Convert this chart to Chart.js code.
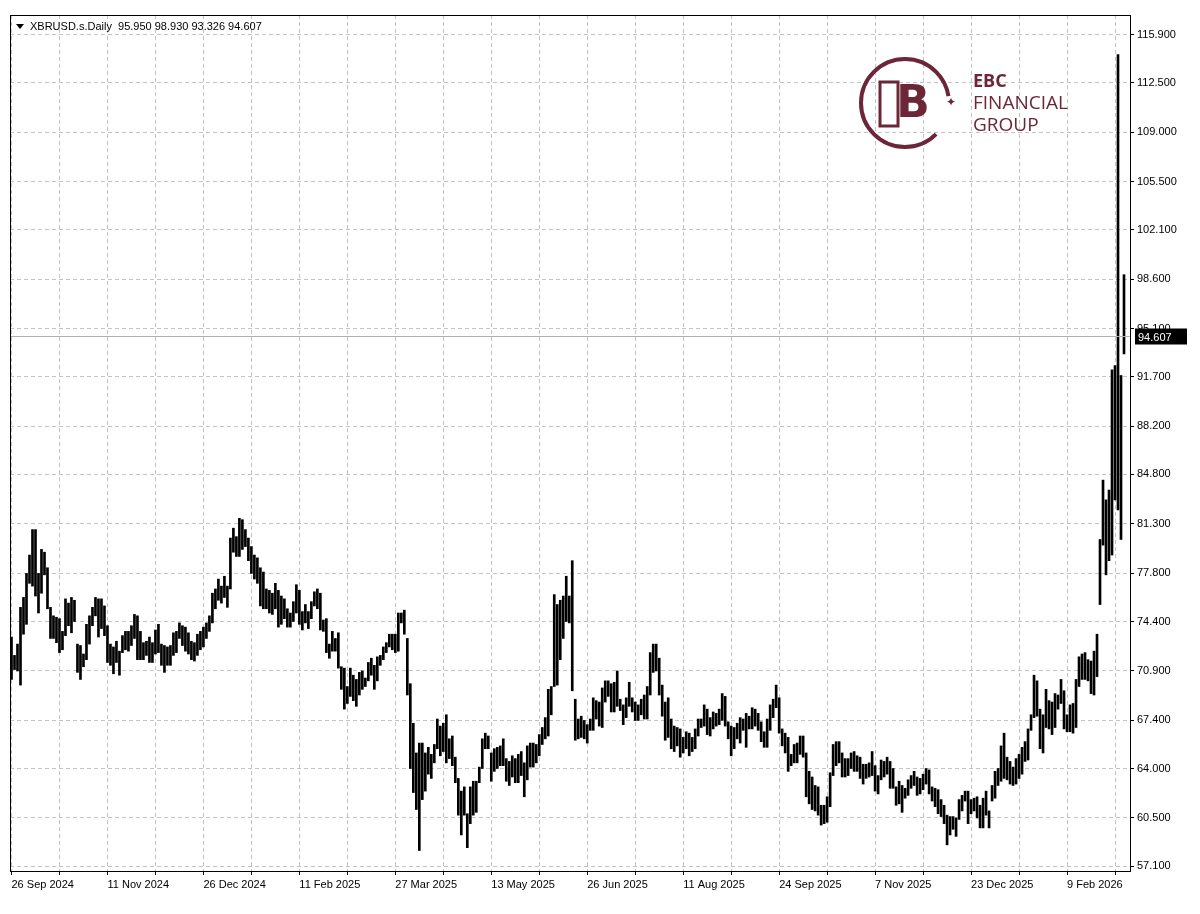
<!DOCTYPE html>
<html>
<head>
<meta charset="utf-8">
<script src="https://cdn.jsdelivr.net/npm/chart.js@4.4.1/dist/chart.umd.min.js"></script>
<style>
  html, body { margin: 0; padding: 0; background: #fff; }
  #wrap { width: 1200px; height: 914px; }
</style>
</head>
<body>
<div id="wrap"><canvas id="myChart" width="1200" height="914"></canvas></div>
<script>
// daily highs / lows, Sep 2024 -> Mar 2026
let highs = [
  73.3,72.0,72.8,75.4,76.1,77.8,79.1,80.9,80.9,77.8, 79.5,79.3,78.2,75.4,74.8,74.7,74.6,73.7,76.0,75.7,
  76.1,75.9,72.8,72.7,72.1,74.2,74.8,75.4,76.1,76.0, 76.0,75.5,74.1,72.8,72.6,73.0,72.3,73.4,73.7,73.7,
  74.1,74.9,74.8,73.7,72.9,73.0,73.3,72.9,73.8,74.2, 72.8,72.7,72.6,72.7,73.6,73.7,74.3,74.1,74.0,73.6,
  73.0,72.9,73.5,73.7,74.0,74.3,74.8,76.4,76.7,77.4, 76.9,77.6,76.9,80.3,81.0,80.4,81.7,81.6,80.9,80.3,
  79.7,79.1,78.9,78.2,77.9,76.7,76.6,76.4,77.1,76.6, 76.2,76.0,75.3,
  75.0,75.8,77.0,76.6,75.1,75.6,75.1,75.8,76.5,76.7, 76.4,74.5,74.6,72.8,73.7,73.2,73.6,71.2,71.1,69.8,
  71.1,70.6,70.3,70.8,70.9,70.4,71.5,71.8,71.3,71.9, 72.0,72.6,72.9,73.5,73.5,73.5,75.0,75.0,75.2,73.2,
  70.0,67.2,65.1,65.8,65.8,65.1,65.5,65.0,65.7,67.5, 67.0,67.2,67.8,66.1,66.3,64.8,63.3,62.4,62.7,60.8,
  62.7,63.1,63.1,64.1,66.1,66.5,66.3,65.1,65.4,65.5, 65.6,66.1,64.7,64.5,64.9,64.7,65.0,65.2,64.4,65.6,
  65.8,65.8,65.7,66.4,66.9,67.6,69.6,69.8,76.3,75.6, 75.9,76.2,77.6,76.2,78.7,68.9,67.5,
  67.7,67.4,67.1,67.5,69.0,68.8,68.7,69.7,70.2,70.2, 70.0,70.1,70.9,68.9,68.5,69.0,70.1,69.0,68.7,68.5,
  68.9,69.2,69.8,72.2,72.8,72.8,71.8,69.9,68.7,69.0, 67.5,67.0,66.9,66.8,66.2,66.6,66.5,66.2,66.8,67.5,
  67.5,68.5,68.2,67.6,68.0,67.9,68.2,69.3,69.1,67.3, 67.0,66.9,67.2,67.6,67.5,67.9,67.7,68.3,68.2,67.9,
  67.3,66.6,67.5,68.5,68.9,69.9,69.0,66.8,66.5,66.2, 65.0,65.7,65.8,66.3,66.3,65.1,63.8,63.4,62.8,62.7,
  61.4,61.4,62.0,63.7,65.7,65.9,65.9,65.1,64.7,64.7, 65.1,65.2,64.9,64.8,64.3,64.3,
  64.4,65.2,64.2,63.5,64.6,64.5,64.8,64.5,64.0,62.7, 63.1,62.8,62.6,63.2,63.5,63.8,63.4,63.3,63.6,64.0,
  63.9,62.7,62.6,62.5,61.8,61.4,60.7,60.6,60.6,60.5, 61.8,62.1,62.4,62.4,61.8,61.9,62.0,61.4,61.9,62.4,
  61.0,62.8,63.8,64.0,65.6,66.5,64.8,64.5,64.1,64.7, 65.0,65.5,65.9,66.8,67.8,70.6,70.2,68.2,67.8,69.6,
  68.8,68.7,69.3,69.2,70.3,69.5,67.8,68.5,68.6,70.3, 71.9,72.1,72.2,71.7,71.6,72.3,73.5,
  80.2,84.4,83.0,83.7,92.2,92.5,114.5,91.8,98.93
];
let lows = [
  70.3,71.0,70.9,69.9,73.5,74.2,77.1,76.9,76.2,75.0, 76.4,77.7,75.3,73.2,73.2,72.9,72.2,72.4,73.4,74.1,
  73.6,74.4,70.8,70.3,71.2,71.7,72.8,74.1,74.8,73.3, 73.9,73.4,71.5,71.3,70.7,71.5,70.6,72.2,72.4,72.3,
  72.7,73.2,71.7,71.7,71.7,72.0,71.5,71.5,72.1,72.2, 71.3,70.8,71.3,71.3,72.0,72.2,73.2,72.7,72.3,72.1,
  71.7,71.6,72.0,72.4,72.6,73.2,73.7,74.3,75.3,75.9, 75.7,76.1,75.4,76.7,79.3,79.0,79.0,79.5,79.7,78.7,
  77.8,77.4,77.1,75.5,75.3,75.3,75.0,74.9,75.3,74.0, 74.2,74.6,74.0,
  74.0,74.4,75.0,74.2,73.8,74.3,73.9,74.6,75.5,75.3, 73.8,73.7,72.2,71.8,72.3,72.3,71.1,69.6,68.2,68.6,
  69.1,68.8,68.4,69.2,69.6,69.8,70.2,70.6,69.6,70.2, 71.3,71.7,72.2,72.6,72.4,72.2,72.3,74.3,73.5,69.2,
  64.0,62.3,61.1,58.2,61.8,62.4,63.6,63.3,64.4,65.4, 64.9,65.2,64.4,64.7,64.2,63.0,60.7,59.3,60.7,58.4,
  60.1,60.7,60.9,63.0,64.0,65.4,65.4,63.1,63.8,64.0, 64.2,64.2,63.1,62.8,63.4,63.0,63.0,63.5,62.0,63.2,
  64.1,64.1,64.4,64.9,65.7,66.1,66.3,67.8,69.8,69.9, 71.7,73.2,74.4,74.3,69.5,66.0,66.1,
  66.2,66.1,65.8,66.7,66.7,67.5,67.0,66.9,68.7,69.1, 68.0,68.0,68.4,68.1,67.1,67.6,68.4,68.0,67.4,67.4,
  67.8,67.5,67.5,69.2,70.8,70.9,69.2,67.7,66.0,66.2, 65.4,65.2,65.6,64.8,65.1,65.4,64.9,65.2,65.4,66.3,
  66.9,67.0,66.4,66.3,66.8,67.0,67.1,67.4,67.0,66.1, 64.9,65.4,66.1,65.8,66.7,65.5,66.8,66.8,67.0,66.7,
  65.9,65.5,65.5,66.7,67.6,68.3,66.5,65.6,65.1,63.8, 64.2,64.4,64.4,65.0,64.8,62.0,61.5,61.1,61.0,60.7,
  60.0,60.1,60.2,61.3,63.5,64.2,64.4,63.4,63.4,63.5, 64.0,63.8,63.8,63.3,62.9,63.3,
  63.4,63.5,62.4,62.2,63.2,63.4,63.6,62.6,62.6,61.4, 61.5,60.9,61.9,62.1,62.6,62.8,62.1,62.2,62.5,62.9,
  62.2,61.7,61.3,60.8,60.6,60.1,58.6,59.3,59.7,59.2, 60.4,61.0,61.7,60.1,60.8,61.0,60.5,59.8,59.8,60.7,
  59.8,61.7,61.9,62.8,63.1,63.3,63.2,62.9,62.8,62.9, 63.3,63.6,64.5,64.6,66.7,67.6,67.7,65.4,65.1,66.9,
  66.8,66.4,66.9,68.2,68.6,66.8,66.6,66.6,66.5,66.9, 69.8,70.3,70.3,70.2,69.3,69.2,70.5,
  75.6,79.8,77.7,78.7,79.1,83.0,82.3,80.2,93.326
];
let dateLabels = ['26 Sep 2024','11 Nov 2024','26 Dec 2024','11 Feb 2025','27 Mar 2025','13 May 2025',
  '26 Jun 2025','11 Aug 2025','24 Sep 2025','7 Nov 2025','23 Dec 2025','9 Feb 2026'];
let priceTicks = [57.1,60.5,64.0,67.4,70.9,74.4,77.8,81.3,84.8,88.2,91.7,95.1,98.6,102.1,105.5,109.0,112.5,115.9];
let lastOHLC = [95.950, 98.930, 93.326, 94.607];

let bars = highs.map((h, i) => ({ x: i, y: [lows[i], h] }));
let maroon = '#6b2737';

const decor = {
  id: 'decor',
  beforeDraw(chart) {
    const c = chart.ctx;
    c.save();
    c.fillStyle = '#fff';
    c.fillRect(0, 0, chart.width, chart.height);
    c.restore();
  },
  afterDatasetsDraw(chart) {
    const c = chart.ctx, a = chart.chartArea, ys = chart.scales.y;
    c.save();
    // current price line
    const py = Math.round(ys.getPixelForValue(lastOHLC[3])) + 0.5;
    c.strokeStyle = '#b0b0b0'; c.lineWidth = 1;
    c.beginPath(); c.moveTo(a.left, py); c.lineTo(a.right, py); c.stroke();
    // frame
    c.strokeStyle = '#000';
    c.strokeRect(a.left + 0.5, a.top + 0.5, a.right - a.left, a.bottom - a.top);
    // price label box
    c.fillStyle = '#000';
    c.fillRect(a.right + 5, py - 8, 52, 16);
    c.fillStyle = '#fff';
    c.font = '11px "Liberation Sans", sans-serif';
    c.textBaseline = 'middle';
    c.fillText(lastOHLC[3].toFixed(3), a.right + 8, py + 1);
    // header
    c.fillStyle = '#000';
    c.beginPath(); c.moveTo(a.left + 6, a.top + 9); c.lineTo(a.left + 14, a.top + 9); c.lineTo(a.left + 10, a.top + 14); c.fill();
    c.fillText('XBRUSD.s.Daily  ' + lastOHLC.map(v => v.toFixed(3)).join(' '), a.left + 20, a.top + 12);
    // logo
    c.strokeStyle = maroon; c.fillStyle = maroon; c.lineWidth = 4;
    c.beginPath(); c.arc(905, 103, 44, 0.25 * Math.PI, 1.95 * Math.PI); c.stroke();
    c.lineWidth = 3;
    c.font = 'bold 44px "DejaVu Sans", sans-serif';
    c.textAlign = 'center';
    c.fillText('B', 913, 106);
    c.strokeRect(880, 82, 18, 44);
    c.font = '12px sans-serif';
    c.fillText('\u2726', 951, 103);
    c.textAlign = 'left';
    c.font = 'bold 18px "Open Sans", sans-serif';
    c.fillText('EBC', 973, 82);
    c.font = '19px "Open Sans", sans-serif';
    c.fillText('FINANCIAL', 973, 104);
    c.fillText('GROUP', 973, 126);
    c.restore();
  }
};

new Chart(document.getElementById('myChart'), {
  type: 'bar',
  data: {
    datasets: [{
      data: bars,
      backgroundColor: '#000',
      barThickness: 2,
      grouped: false
    }]
  },
  options: {
    responsive: false,
    animation: false,
    layout: { padding: { left: 10, top: 15 } },
    plugins: { legend: { display: false }, tooltip: { enabled: false } },
    scales: {
      x: {
        type: 'linear',
        min: -0.5,
        max: 373,
        offset: false,
        afterBuildTicks(s) {
          const t = [];
          for (let i = 0; i <= 368; i += 16) t.push({ value: i });
          s.ticks = t;
        },
        afterFit(s) { s.height = 43; },
        grid: { offset: false, color: '#c4c4c4', drawTicks: true, tickLength: 4, tickColor: '#000' },
        border: { display: true, color: '#000', dash: [4, 3] },
        ticks: {
          autoSkip: false,
          maxRotation: 0,
          align: 'start',
          color: '#000',
          font: { family: 'Liberation Sans', size: 11 },
          callback: v => (v % 32 === 0 ? dateLabels[v / 32] : '')
        }
      },
      y: {
        position: 'right',
        min: 56.75,
        max: 117.3,
        afterBuildTicks(s) { s.ticks = priceTicks.map(v => ({ value: v })); },
        afterFit(s) { s.width = 70; },
        grid: { color: '#c4c4c4', drawTicks: true, tickLength: 4, tickColor: '#000' },
        border: { display: true, color: '#000', dash: [4, 3] },
        ticks: {
          color: '#000',
          padding: 3,
          font: { family: 'Liberation Sans', size: 11 },
          callback: v => Number(v).toFixed(3)
        }
      }
    }
  },
  plugins: [decor]
});
</script>
</body>
</html>
